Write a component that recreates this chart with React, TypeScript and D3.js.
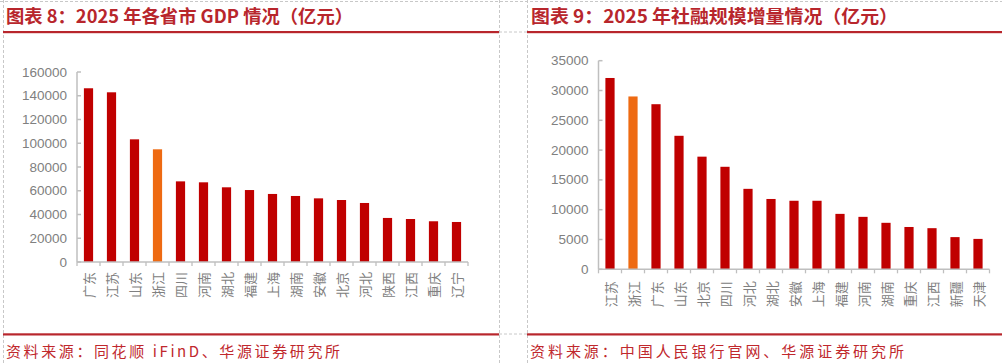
import React from "react";
import { scaleBand, scaleLinear } from "d3";

// GDP by province, 2025 (亿元)
const gdpProvinces = ["广东", "江苏", "山东", "浙江", "四川", "河南", "湖北", "福建", "上海", "湖南", "安徽", "北京", "河北", "陕西", "江西", "重庆", "辽宁"];
const gdpValues = [146300, 142900, 103300, 94900, 67900, 67100, 62900, 60600, 57300, 55600, 53600, 52200, 49700, 37100, 36200, 34300, 33700];
const gdpTicks = [0, 20000, 40000, 60000, 80000, 100000, 120000, 140000, 160000];

// social financing increment, 2025 (亿元)
const tsfProvinces = ["江苏", "浙江", "广东", "山东", "北京", "四川", "河北", "湖北", "安徽", "上海", "福建", "河南", "湖南", "重庆", "江西", "新疆", "天津"];
const tsfValues = [32100, 29000, 27700, 22400, 18900, 17200, 13500, 11800, 11500, 11500, 9300, 8800, 7800, 7100, 6900, 5400, 5100];
const tsfTicks = [0, 5000, 10000, 15000, 20000, 25000, 30000, 35000];

const highlight = "浙江";

const RED = "#C00000";
const ORANGE = "#EE6A12";
const TITLE_RED = "#B8262C";
const AXIS = "#BFBFBF";
const LABEL = "#808080";
const CJK = "'Noto Sans CJK SC', sans-serif";
const NUM = "'Liberation Sans', Arial, sans-serif";

type PanelProps = {
  cats: string[];
  vals: number[];
  ticks: number[];
  x0: number;
  x1: number;
  yTop: number;
  yBottom: number;
  labelGap: number;
};

const Bars = ({ cats, vals, ticks, x0, x1, yTop, yBottom, labelGap }: PanelProps) => {
  const x = scaleBand<string>().domain(cats).range([x0, x1]).paddingInner(0.6).paddingOuter(0.3);
  const y = scaleLinear().domain([0, ticks[ticks.length - 1]]).range([yBottom, yTop]);
  const step = x.step();
  const bounds = cats.map((_, i) => x0 + i * step).concat([x1]);

  return (
    <g>
      {cats.map((c, i) => (
        <rect
          key={c + i}
          x={x(c)}
          y={y(vals[i])}
          width={x.bandwidth()}
          height={yBottom - y(vals[i])}
          fill={c === highlight ? ORANGE : RED}
        />
      ))}
      {/* y axis */}
      <line x1={x0} x2={x0} y1={yTop} y2={yBottom} stroke={AXIS} strokeWidth={1.5} />
      {ticks.map((t) => (
        <g key={t}>
          <line x1={x0} x2={x0 + 4} y1={y(t)} y2={y(t)} stroke={AXIS} strokeWidth={1.5} />
          <text
            x={x0 - 10}
            y={y(t)}
            textAnchor="end"
            dominantBaseline="central"
            fontFamily={NUM}
            fontSize={13.5}
            fill={LABEL}
          >
            {t}
          </text>
        </g>
      ))}
      {/* x axis */}
      <line x1={x0} x2={x1} y1={yBottom} y2={yBottom} stroke={AXIS} strokeWidth={1.5} />
      {bounds.map((b, i) => (
        <line key={i} x1={b} x2={b} y1={yBottom} y2={yBottom + 4} stroke={AXIS} strokeWidth={1.3} />
      ))}
      {cats.map((c, i) => (
        <text
          key={"l" + c + i}
          transform={`translate(${(x(c) as number) + x.bandwidth() / 2},${yBottom + labelGap}) rotate(-90)`}
          textAnchor="end"
          dominantBaseline="central"
          fontFamily={CJK}
          fontSize={13}
          fill={LABEL}
        >
          {c}
        </text>
      ))}
    </g>
  );
};

const dash = { stroke: "#C8C8C8", strokeWidth: 1, strokeDasharray: "3,2" };

const App = () => {
  return (
    <svg width={1002} height={363} style={{ position: "absolute", left: 0, top: 0, background: "#fff" }}>
      <rect x={0} y={0} width={1002} height={363} fill="#fff" />
      {/* dashed frame */}
      <line x1={0} x2={1002} y1={1.5} y2={1.5} {...dash} />
      <line x1={3.5} x2={3.5} y1={0} y2={363} {...dash} />
      <line x1={499.5} x2={499.5} y1={0} y2={363} {...dash} />
      <line x1={527.5} x2={527.5} y1={0} y2={363} {...dash} />
      <line x1={499} x2={527} y1={32} y2={32} {...dash} />
      <line x1={499} x2={527} y1={334} y2={334} {...dash} />

      {/* titles */}
      <text x={6} y={23} fontFamily={CJK} fontWeight={700} fontSize={18} fill={TITLE_RED} textLength={347} lengthAdjust="spacingAndGlyphs">
        图表 8：2025 年各省市 GDP 情况（亿元）
      </text>
      <text x={531} y={23} fontFamily={CJK} fontWeight={700} fontSize={18} fill={TITLE_RED} textLength={367} lengthAdjust="spacingAndGlyphs">
        图表 9：2025 年社融规模增量情况（亿元）
      </text>
      <rect x={3} y={31} width={496} height={2.2} fill={TITLE_RED} />
      <rect x={527} y={31} width={475} height={2.2} fill={TITLE_RED} />

      <Bars cats={gdpProvinces} vals={gdpValues} ticks={gdpTicks} x0={77} x1={468} yTop={72} yBottom={262} labelGap={10} />
      <Bars cats={tsfProvinces} vals={tsfValues} ticks={tsfTicks} x0={598.5} x1={989.5} yTop={60.7} yBottom={269.3} labelGap={12} />

      {/* sources */}
      <rect x={3} y={333.3} width={496} height={2.2} fill={TITLE_RED} />
      <rect x={527} y={333.3} width={475} height={2.2} fill={TITLE_RED} />
      <text x={6} y={357} fontFamily={CJK} fontSize={15} fill="#C0282D" textLength={334} lengthAdjust="spacing">
        资料来源：同花顺 iFinD、华源证券研究所
      </text>
      <text x={530} y={357} fontFamily={CJK} fontSize={15} fill="#C0282D" textLength={374} lengthAdjust="spacing">
        资料来源：中国人民银行官网、华源证券研究所
      </text>
    </svg>
  );
};

export default App;
